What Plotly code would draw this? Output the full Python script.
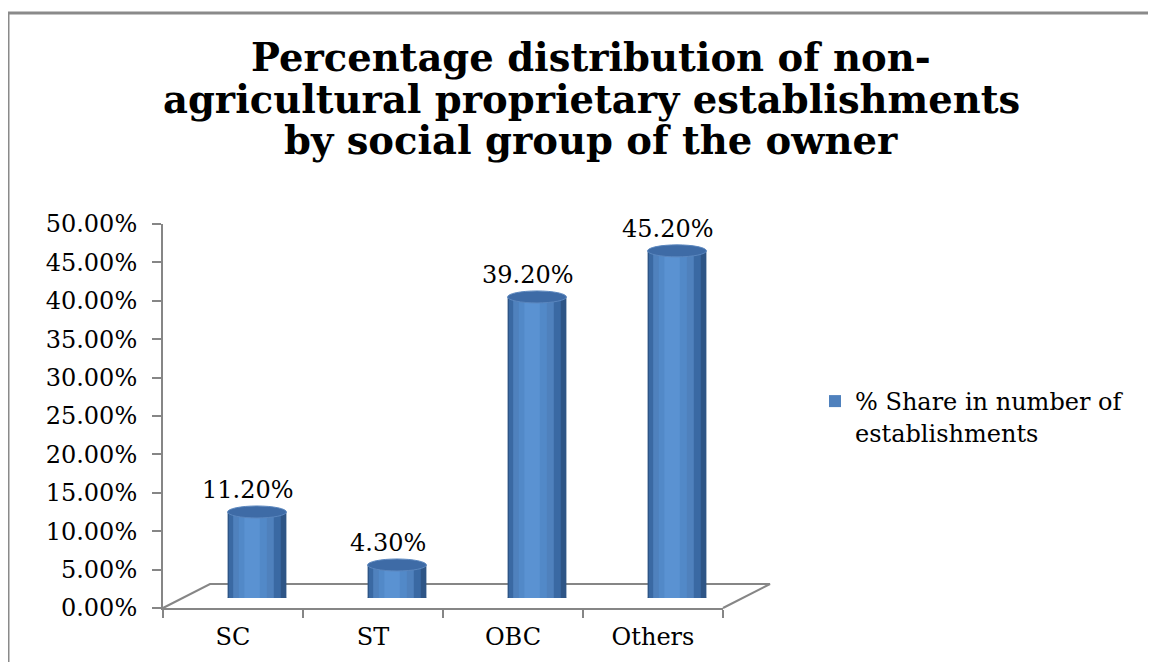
import plotly.graph_objects as go

categories = ["SC", "ST", "OBC", "Others"]
values = [0.112, 0.043, 0.392, 0.452]
value_labels = ["11.20%", "4.30%", "39.20%", "45.20%"]
series_name = "% Share in number of<br>establishments"
title_lines = ["Percentage distribution of non-",
               "agricultural proprietary establishments",
               "by social group of the owner"]

O = 8                      # page body margin in the browser
W, H = 1156 - O, 662 - O   # figure size
# plot frame in reference-page pixels, converted to figure pixels
L, R_ = 163 - O, 773 - O
B, T = 608 - O, 214 - O
PW, PH = R_ - L, B - T
AX_W, AX_H = 560, 384
DX, DY = 24, 10
FDX, FDY = 47, 24

FONT = "DejaVu Serif"
GRAY = "#868686"

fig = go.Figure()

# invisible trace to carry the front (visible) axes
fig.add_trace(go.Scatter(x=categories, y=values, mode="markers",
                         marker=dict(opacity=0), showlegend=False,
                         hoverinfo="skip"))

bw = 0.42
layers = [
    (-0.21, 0.21, "#2E5586", False),
    (-0.20, 0.17, "#3A69A3", False),
    (-0.17, 0.12, "#4F81BD", True),
    (-0.13, 0.07, "#5289C8", False),
    (-0.09, 0.02, "#5A92D2", False),
]
for (o0, o1, col, leg) in layers:
    fig.add_trace(go.Bar(
        x=categories, y=values, xaxis="x2", yaxis="y2",
        offset=o0, width=o1 - o0,
        marker=dict(color=col, line=dict(width=0)),
        name=series_name, showlegend=leg,
        hoverinfo=None if leg else "skip",
    ))

hh = 6 * 0.5 / AX_H
for i, v in enumerate(values):
    fig.add_shape(type="circle", xref="x2", yref="y2",
                  x0=i - bw / 2, x1=i + bw / 2, y0=-hh, y1=hh,
                  fillcolor="#3F70AC", line=dict(width=0), layer="below")
    fig.add_shape(type="circle", xref="x2", yref="y2",
                  x0=i - bw / 2, x1=i + bw / 2, y0=v - hh, y1=v + hh,
                  fillcolor="#3E6BA6", line=dict(color="#5A86BE", width=1), layer="above")
    fig.add_annotation(x=i, y=v, xref="x2", yref="y2", text=value_labels[i],
                       showarrow=False, yanchor="bottom", yshift=6, xshift=-9,
                       font=dict(family=FONT, size=24, color="black"))

def px(x):
    return (x - O - L) / PW
def py(y):
    return (B - (y - O)) / PH

# floor parallelogram (reference-page pixels)
fl, fr, fb = 163, 163 + AX_W, 608
floor = (f"M {px(fl)} {py(fb)} L {px(fl+FDX)} {py(fb-FDY)} "
         f"L {px(fr+FDX)} {py(fb-FDY)} L {px(fr)} {py(fb)}")
fig.add_shape(type="path", xref="paper", yref="paper", path=floor,
              line=dict(color=GRAY, width=2), layer="below")

# outer frame (top and left edges)
fig.add_shape(type="line", xref="paper", yref="paper",
              x0=px(8), x1=px(1170), y0=py(13), y1=py(13),
              line=dict(color="#8a8a8a", width=3))
fig.add_shape(type="line", xref="paper", yref="paper",
              x0=px(8), x1=px(8), y0=py(13), y1=py(680),
              line=dict(color="#8a8a8a", width=3))

# title lines
for k, (line, yc) in enumerate(zip(title_lines, [58, 99, 140])):
    fig.add_annotation(xref="paper", yref="paper", x=px(591), y=py(yc),
                       xanchor="center", yanchor="middle", showarrow=False,
                       text=f"<b>{line}</b>",
                       font=dict(family=FONT, size=38.5, color="black"))

fig.update_layout(
    width=W, height=H,
    margin=dict(l=L, r=W - R_, t=T, b=H - B, pad=0, autoexpand=False),
    paper_bgcolor="white", plot_bgcolor="rgba(0,0,0,0)",
    barmode="overlay",
    xaxis=dict(type="category", domain=[0, AX_W / PW], range=[-0.5, 3.5],
               tickson="boundaries", ticks="outside", ticklen=8, tickwidth=2,
               tickcolor=GRAY, showline=True, linecolor=GRAY, linewidth=2,
               showgrid=False, zeroline=False, fixedrange=True,
               ticklabelstandoff=6,
               tickfont=dict(family=FONT, size=24, color="black"),
               anchor="y"),
    yaxis=dict(domain=[0, AX_H / PH], range=[0, 0.5], dtick=0.05,
               tickformat=".2%", ticks="outside", ticklen=9, tickwidth=2,
               tickcolor=GRAY, showline=True, linecolor=GRAY, linewidth=2,
               showgrid=False, zeroline=False, ticklabelstandoff=10,
               tickfont=dict(family=FONT, size=24, color="black"),
               anchor="x"),
    xaxis2=dict(type="category", domain=[DX / PW, (DX + AX_W) / PW],
                range=[-0.5, 3.5], visible=False, anchor="y2"),
    yaxis2=dict(domain=[DY / PH, (DY + AX_H) / PH], range=[0, 0.5],
                visible=False, anchor="x2"),
    legend=dict(xref="container", yref="container",
                x=(815 - O) / W, xanchor="left", y=1 - (379 - O) / H, yanchor="top",
                valign="top", bgcolor="rgba(0,0,0,0)",
                font=dict(family=FONT, size=24, color="black")),
    showlegend=True,
)

fig.write_html("out.html")
